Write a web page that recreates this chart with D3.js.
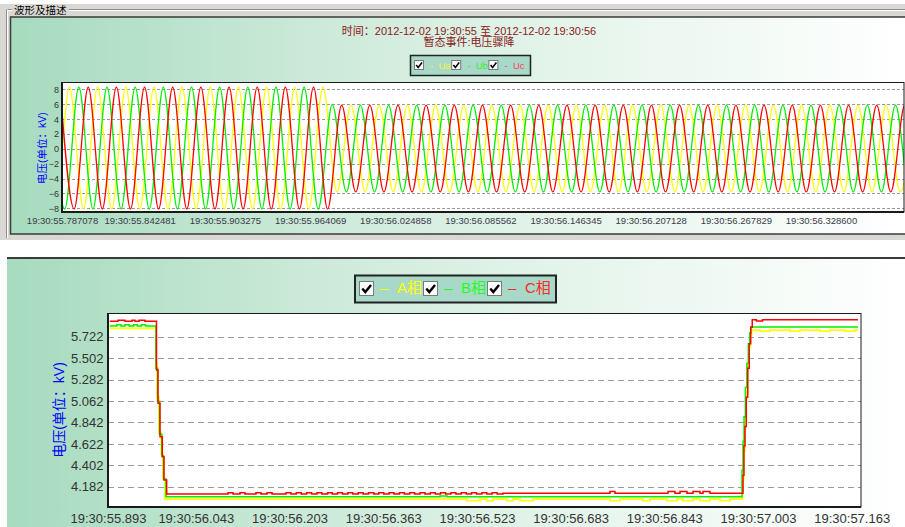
<!DOCTYPE html>
<html>
<head>
<meta charset="utf-8">
<script src="https://cdn.jsdelivr.net/npm/d3@7/dist/d3.min.js"></script>
<style>
  html, body { margin: 0; padding: 0; background: #fff; }
  svg { display: block; font-family: "Liberation Sans", "Noto Sans CJK SC", sans-serif; }
</style>
</head>
<body>
<svg id="chart" width="905" height="527"></svg>
<script>
// ---------------- text ----------------
const groupTitle = "波形及描述";
const titleLines = ["时间：2012-12-02 19:30:55 至 2012-12-02 19:30:56", "暂态事件:电压骤降"];
const yAxisTitle = "电压(单位：kV)";
const waveSeries = ["Ua", "Ub", "Uc"];
const rmsSeries = ["A相", "B相", "C相"];

// ---------------- waveform (kV), seconds within 19:30 ----------------
const waveWindow = [55.787078, 56.38782];
const waveTicksX = [55.787078, 55.842481, 55.903275, 55.964069, 56.024858,
                    56.085562, 56.146345, 56.207128, 56.267829, 56.328600];
const waveTicksY = [8, 6, 4, 2, 0, -2, -4, -6, -8];
const waveRange = [-8.5, 9];
// time of the first crest of Ua, Ub, Uc and the half-cycle spacing of crests
const crestStart = [55.772309, 55.779006, 55.785703];
const halfCycle = 0.0100457;
// successive crest values (alternating peak / trough)
const uaCrests = [
  8.3,-8.1,8.3,-8.1,8.3,-8.1,8.3,-8.1,8.3,-8.1,
  8.3,-8.1,8.3,-8.1,8.3,-8.1,8.3,-8.1,8.3,-8.1,
  8.3,-5.8,5.9,-5.8,5.9,-5.8,5.9,-5.8,5.9,-5.8,
  5.9,-5.8,5.9,-5.8,5.9,-5.8,5.9,-5.8,5.9,-5.8,
  5.9,-5.8,5.9,-5.8,5.9,-5.8,5.9,-5.8,5.9,-5.8,
  5.9,-5.8,5.9,-5.8,5.9,-5.8,5.9,-5.8,5.9,-5.8,
  5.9,-5.8,5.9];
const ubCrests = [
  8.3,-8.1,8.3,-8.1,8.3,-8.1,8.3,-8.1,8.3,-8.1,
  8.3,-8.1,8.3,-8.1,8.3,-8.1,8.3,-8.1,8.3,-8.1,
  6.0,-5.8,5.9,-5.8,5.9,-5.8,5.9,-5.8,5.9,-5.8,
  5.9,-5.8,5.9,-5.8,5.9,-5.8,5.9,-5.8,5.9,-5.8,
  5.9,-5.8,5.9,-5.8,5.9,-5.8,5.9,-5.8,5.9,-5.8,
  5.9,-5.8,5.9,-5.8,5.9,-5.8,5.9,-5.8,5.9,-5.8,
  5.9,-5.8,5.9];
const ucCrests = [
  8.3,-8.1,8.3,-8.1,8.3,-8.1,8.3,-8.1,8.3,-8.1,
  8.3,-8.1,8.3,-8.1,8.3,-8.1,8.3,-8.1,8.3,-8.1,
  5.9,-5.8,5.9,-5.8,5.9,-5.8,5.9,-5.8,5.9,-5.8,
  5.9,-5.8,5.9,-5.8,5.9,-5.8,5.9,-5.8,5.9,-5.8,
  5.9,-5.8,5.9,-5.8,5.9,-5.8,5.9,-5.8,5.9,-5.8,
  5.9,-5.8,5.9,-5.8,5.9,-5.8,5.9,-5.8,5.9,-5.8,
  5.9,-5.8,5.9];

// ---------------- RMS trend (kV), [time, value] steps ----------------
const rmsWindow = [55.893, 57.1789];
const rmsRange = [3.9735, 5.9665];
const rmsTicksX = [55.893, 56.043, 56.203, 56.363, 56.523, 56.683, 56.843, 57.003, 57.163];
const rmsTicksY = [5.722, 5.502, 5.282, 5.062, 4.842, 4.622, 4.402, 4.182];

const rmsA = [
  [55.8960,5.809],
  [55.9750,5.450],[55.9770,5.100],[55.9801,4.740],[55.9840,4.520],[55.9869,4.270],[55.9903,4.055],
  [56.5060,4.040],[56.5283,4.055],[56.5402,4.040],[56.5504,4.055],
  [56.5744,4.040],[56.5846,4.055],[56.5966,4.040],[56.6188,4.055],
  [56.7502,4.040],[56.7673,4.055],[56.8066,4.040],[56.8185,4.055],
  [56.8476,4.040],[56.8647,4.055],[56.8749,4.040],[56.8920,4.055],
  [56.9039,4.040],[56.9210,4.055],[56.9381,4.040],[56.9552,4.055],
  [56.9766,4.250],[56.9785,4.550],[56.9805,4.850],[56.9828,5.150],[56.9852,5.420],
  [56.9876,5.620],[56.9900,5.740],[56.9920,5.790],
  [57.0064,5.780],[57.0235,5.790],[57.0576,5.780],[57.0747,5.790],
  [57.1089,5.780],[57.1259,5.790],[57.1515,5.780],[57.1686,5.790],
  [57.1737,5.790]];

const rmsB = [
  [55.8960,5.833],
  [55.9080,5.845],[55.9150,5.833],[55.9220,5.845],[55.9290,5.833],
  [55.9370,5.845],[55.9430,5.833],[55.9500,5.845],[55.9570,5.833],
  [55.9750,5.400],[55.9776,5.060],[55.9810,4.720],[55.9849,4.500],[55.9878,4.260],[55.9920,4.078],
  [56.4599,4.086],[56.4719,4.078],
  [56.9757,4.350],[56.9775,4.650],[56.9792,4.900],[56.9815,5.200],[56.9840,5.450],
  [56.9865,5.650],[56.9890,5.760],[56.9910,5.822],
  [57.1737,5.822]];

const rmsC = [
  [55.8960,5.882],
  [55.9101,5.893],[55.9220,5.882],[55.9340,5.893],[55.9390,5.882],
  [55.9460,5.893],[55.9560,5.882],
  [55.9758,5.381],[55.9784,5.039],[55.9818,4.696],[55.9857,4.490],[55.9886,4.251],[55.9932,4.107],
  [56.0979,4.120],[56.1065,4.107],[56.1184,4.120],[56.1269,4.107],
  [56.1457,4.120],[56.1543,4.107],[56.1645,4.120],[56.1731,4.107],
  [56.1970,4.120],[56.2055,4.107],[56.2146,4.120],[56.2231,4.107],
  [56.2322,4.120],[56.2407,4.107],[56.2498,4.120],[56.2583,4.107],
  [56.2680,4.120],[56.2759,4.107],[56.2850,4.120],[56.2935,4.107],
  [56.3026,4.120],[56.3111,4.107],[56.3202,4.120],[56.3287,4.107],
  [56.3378,4.120],[56.3470,4.107],[56.3554,4.120],[56.3639,4.107],
  [56.3730,4.120],[56.3815,4.107],[56.3906,4.120],[56.3991,4.107],
  [56.4082,4.120],[56.4167,4.107],[56.4258,4.120],[56.4343,4.107],
  [56.4434,4.120],[56.4519,4.107],[56.4610,4.120],[56.4695,4.107],
  [56.4786,4.120],[56.4871,4.107],[56.4962,4.120],[56.5047,4.107],
  [56.5138,4.120],[56.5223,4.107],[56.5314,4.120],[56.5399,4.107],
  [56.5490,4.120],[56.5575,4.107],
  [56.5675,4.116],
  [56.7502,4.132],[56.7587,4.116],[56.8493,4.132],[56.8612,4.116],
  [56.8698,4.132],[56.8817,4.116],[56.8920,4.132],[56.9039,4.116],
  [56.9091,4.132],[56.9210,4.116],
  [56.9774,4.300],[56.9790,4.600],[56.9808,4.800],[56.9830,5.100],[56.9855,5.400],
  [56.9880,5.650],[56.9905,5.820],[56.9932,5.897],
  [57.0003,5.884],[57.0106,5.897],
  [57.1737,5.897]];

// ---------------- styles ----------------
const lineColors = ["#ffff00", "#00f000", "#ff0000"];
const waveLegendColors = ["#f4f430", "#30f030", "#ff4060"];
const rmsLegendColors = ["#ffff00", "#20ff20", "#ff2a2a"];

const W = 905, H = 527;
const svg = d3.select("#chart");
const defs = svg.append("defs");

const grad = defs.append("linearGradient").attr("id", "panelFill")
  .attr("x1", 0).attr("x2", 1).attr("y1", 0).attr("y2", 0);
[[0, "#a6dbbe"], [0.33, "#cbe9d8"], [0.6, "#e3f4ea"], [1, "#ffffff"]]
  .forEach(([o, c]) => grad.append("stop").attr("offset", o).attr("stop-color", c));

function checkbox(g, x, y, s, w) {
  g.append("rect").attr("x", x + 0.5).attr("y", y + 0.5).attr("width", s - 1).attr("height", s - 1)
    .attr("fill", "#fff").attr("stroke", "#7a7a7a");
  g.append("path").attr("d", `M${x + s * 0.22},${y + s * 0.5} L${x + s * 0.42},${y + s * 0.74} L${x + s * 0.8},${y + s * 0.26}`)
    .attr("fill", "none").attr("stroke", "#000").attr("stroke-width", w);
}

// ================= upper group: waveform =================
svg.append("rect").attr("x", 0).attr("y", 4).attr("width", W).attr("height", 236).attr("fill", "#dad8d4");
const etch = (x1, y1, x2, y2) => {
  svg.append("line").attr("x1", x1).attr("y1", y1).attr("x2", x2).attr("y2", y2).attr("stroke", "#8c8c8c");
  svg.append("line").attr("x1", x1 + (x1 === x2 ? 1 : 0)).attr("y1", y1 + (y1 === y2 ? 1 : 0))
    .attr("x2", x2 + (x1 === x2 ? 1 : 0)).attr("y2", y2 + (y1 === y2 ? 1 : 0)).attr("stroke", "#fff");
};
etch(7, 9.5, 12, 9.5);
etch(69, 9.5, W, 9.5);
etch(6.5, 9.5, 6.5, 238);
svg.append("text").attr("x", 14).attr("y", 14).attr("font-size", 10.5).attr("fill", "#000").text(groupTitle);

svg.append("rect").attr("x", 10.5).attr("y", 17).attr("width", 896).attr("height", 217)
  .attr("fill", "url(#panelFill)").attr("stroke", "#3a3a3a").attr("stroke-width", 1.5);

titleLines.forEach((t, i) => {
  svg.append("text").attr("x", 469).attr("y", 34.5 + i * 11).attr("text-anchor", "middle")
    .attr("font-size", 11).attr("fill", "#8b1a1a").text(t);
});

// legend for the waveform
const lg1 = svg.append("g");
lg1.append("rect").attr("x", 410.5).attr("y", 55.5).attr("width", 120).attr("height", 20)
  .attr("fill", "#a8d8c8").attr("stroke", "#222").attr("stroke-width", 1.5);
waveSeries.forEach((s, i) => {
  const cx = 414 + i * 37.2;
  checkbox(lg1, cx, 60, 10, 1.6);
  lg1.append("text").attr("x", cx + 16).attr("y", 68.5).attr("font-size", 9.5)
    .attr("fill", waveLegendColors[i]).text("-");
  lg1.append("text").attr("x", cx + 24.5).attr("y", 68.5).attr("font-size", 9.5)
    .attr("fill", waveLegendColors[i]).text(s);
});

// waveform plot
const wp = { l: 62, r: 904, t: 82, b: 212 };
const xw = d3.scaleLinear().domain(waveWindow).range([wp.l, wp.r]);
const yw = d3.scaleLinear().domain(waveRange).range([wp.b, wp.t]);

svg.append("rect").attr("x", wp.l).attr("y", wp.t).attr("width", wp.r - wp.l).attr("height", wp.b - wp.t).attr("fill", "#fff");
svg.append("g").selectAll("line").data(waveTicksY).join("line")
  .attr("x1", wp.l).attr("x2", wp.r)
  .attr("y1", d => Math.round(yw(d)) + 0.5).attr("y2", d => Math.round(yw(d)) + 0.5)
  .attr("stroke", "#9a9a9a").attr("stroke-dasharray", "3,2");

defs.append("clipPath").attr("id", "waveClip").append("rect")
  .attr("x", wp.l).attr("y", wp.t).attr("width", wp.r - wp.l).attr("height", wp.b - wp.t);

const crestSets = [uaCrests, ubCrests, ucCrests];
const waveLine = d3.line().x(d => xw(d[0])).y(d => yw(d[1])).curve(d3.curveMonotoneX);
const waveG = svg.append("g").attr("clip-path", "url(#waveClip)");
crestSets.forEach((arr, i) => {
  const pts = arr.map((v, k) => [crestStart[i] + k * halfCycle, v]);
  waveG.append("path").datum(pts).attr("d", waveLine)
    .attr("fill", "none").attr("stroke", lineColors[i]).attr("stroke-width", 1.3);
});

svg.append("rect").attr("x", wp.l).attr("y", wp.t + 0.5).attr("width", wp.r - wp.l).attr("height", wp.b - wp.t - 0.5)
  .attr("fill", "none").attr("stroke", "#1a1a1a");
svg.append("line").attr("x1", wp.l).attr("x2", wp.l).attr("y1", wp.t).attr("y2", wp.b + 1).attr("stroke", "#1a1a1a").attr("stroke-width", 2);
svg.append("line").attr("x1", wp.l - 1).attr("x2", wp.r).attr("y1", wp.b).attr("y2", wp.b).attr("stroke", "#1a1a1a").attr("stroke-width", 2);

const wyAxis = svg.append("g").attr("transform", `translate(${wp.l},0)`)
  .call(d3.axisLeft(yw).tickValues(waveTicksY).tickSize(0).tickPadding(3));
wyAxis.select(".domain").remove();
wyAxis.selectAll("text").attr("font-size", 9).attr("font-family", "Liberation Sans").attr("fill", "#333");

const wxAxis = svg.append("g").attr("transform", `translate(0,${wp.b})`)
  .call(d3.axisBottom(xw).tickValues(waveTicksX).tickFormat(t => "19:30:" + t.toFixed(6)).tickSize(0).tickPadding(5.3));
wxAxis.select(".domain").remove();
wxAxis.selectAll("text").attr("font-size", 9.5).attr("font-family", "Liberation Sans").attr("fill", "#3a3a48");

svg.append("text").attr("transform", "translate(42,148) rotate(-90)").attr("text-anchor", "middle")
  .attr("dominant-baseline", "central").attr("font-size", 10.5).attr("fill", "#0000ff").text(yAxisTitle);

// ================= lower group: RMS trend =================
svg.append("rect").attr("x", 7).attr("y", 258).attr("width", W - 7).attr("height", H - 258).attr("fill", "url(#panelFill)");
svg.append("line").attr("x1", 7).attr("x2", W).attr("y1", 258).attr("y2", 258).attr("stroke", "#3a3a3a").attr("stroke-width", 2);

const lg2 = svg.append("g");
lg2.append("rect").attr("x", 355).attr("y", 275.5).attr("width", 201).attr("height", 27)
  .attr("fill", "#a8d8c8").attr("stroke", "#222").attr("stroke-width", 2);
rmsSeries.forEach((s, i) => {
  const cx = 359 + i * 64;
  checkbox(lg2, cx, 281, 15, 2.4);
  lg2.append("text").attr("x", cx + 21).attr("y", 293).attr("font-size", 15)
    .attr("fill", rmsLegendColors[i]).text("–");
  lg2.append("text").attr("x", cx + 38).attr("y", 293).attr("font-size", 15)
    .attr("fill", rmsLegendColors[i]).text(s);
});

const rp = { l: 108, r: 861, t: 313, b: 507 };
const xr = d3.scaleLinear().domain(rmsWindow).range([rp.l, rp.r]);
const yr = d3.scaleLinear().domain(rmsRange).range([rp.b, rp.t]);

svg.append("rect").attr("x", rp.l).attr("y", rp.t).attr("width", rp.r - rp.l).attr("height", rp.b - rp.t).attr("fill", "#fff");
svg.append("g").selectAll("line").data(rmsTicksY).join("line")
  .attr("x1", rp.l).attr("x2", rp.r)
  .attr("y1", d => Math.round(yr(d)) + 0.5).attr("y2", d => Math.round(yr(d)) + 0.5)
  .attr("stroke", "#9a9a9a").attr("stroke-dasharray", "6,4");

defs.append("clipPath").attr("id", "rmsClip").append("rect")
  .attr("x", rp.l).attr("y", rp.t).attr("width", rp.r - rp.l).attr("height", rp.b - rp.t);

const rmsLine = d3.line().x(d => xr(d[0])).y(d => yr(d[1])).curve(d3.curveStepAfter);
const rmsG = svg.append("g").attr("clip-path", "url(#rmsClip)");
[rmsA, rmsB, rmsC].forEach((pts, i) => {
  rmsG.append("path").datum(pts).attr("d", rmsLine)
    .attr("fill", "none").attr("stroke", lineColors[i]).attr("stroke-width", i === 0 ? 1.8 : 1.5);
});

svg.append("rect").attr("x", rp.l).attr("y", rp.t + 0.5).attr("width", rp.r - rp.l).attr("height", rp.b - rp.t - 0.5)
  .attr("fill", "none").attr("stroke", "#1a1a1a");
svg.append("line").attr("x1", rp.l).attr("x2", rp.l).attr("y1", rp.t).attr("y2", rp.b + 1).attr("stroke", "#1a1a1a").attr("stroke-width", 2);
svg.append("line").attr("x1", rp.l - 1).attr("x2", rp.r).attr("y1", rp.b).attr("y2", rp.b).attr("stroke", "#1a1a1a").attr("stroke-width", 2);

const ryAxis = svg.append("g").attr("transform", `translate(${rp.l},0)`)
  .call(d3.axisLeft(yr).tickValues(rmsTicksY).tickFormat(d => d.toFixed(3)).tickSize(0).tickPadding(4.5));
ryAxis.select(".domain").remove();
ryAxis.selectAll("text").attr("font-size", 13).attr("font-family", "Liberation Sans").attr("fill", "#333");

const rxAxis = svg.append("g").attr("transform", `translate(0,${rp.b})`)
  .call(d3.axisBottom(xr).tickValues(rmsTicksX).tickFormat(t => "19:30:" + t.toFixed(3)).tickSize(0).tickPadding(6.3));
rxAxis.select(".domain").remove();
rxAxis.selectAll("text").attr("font-size", 13).attr("font-family", "Liberation Sans").attr("fill", "#333");

svg.append("text").attr("transform", "translate(59,410) rotate(-90)").attr("text-anchor", "middle")
  .attr("dominant-baseline", "central").attr("font-size", 14).attr("fill", "#0000ff").text(yAxisTitle);
</script>
</body>
</html>
